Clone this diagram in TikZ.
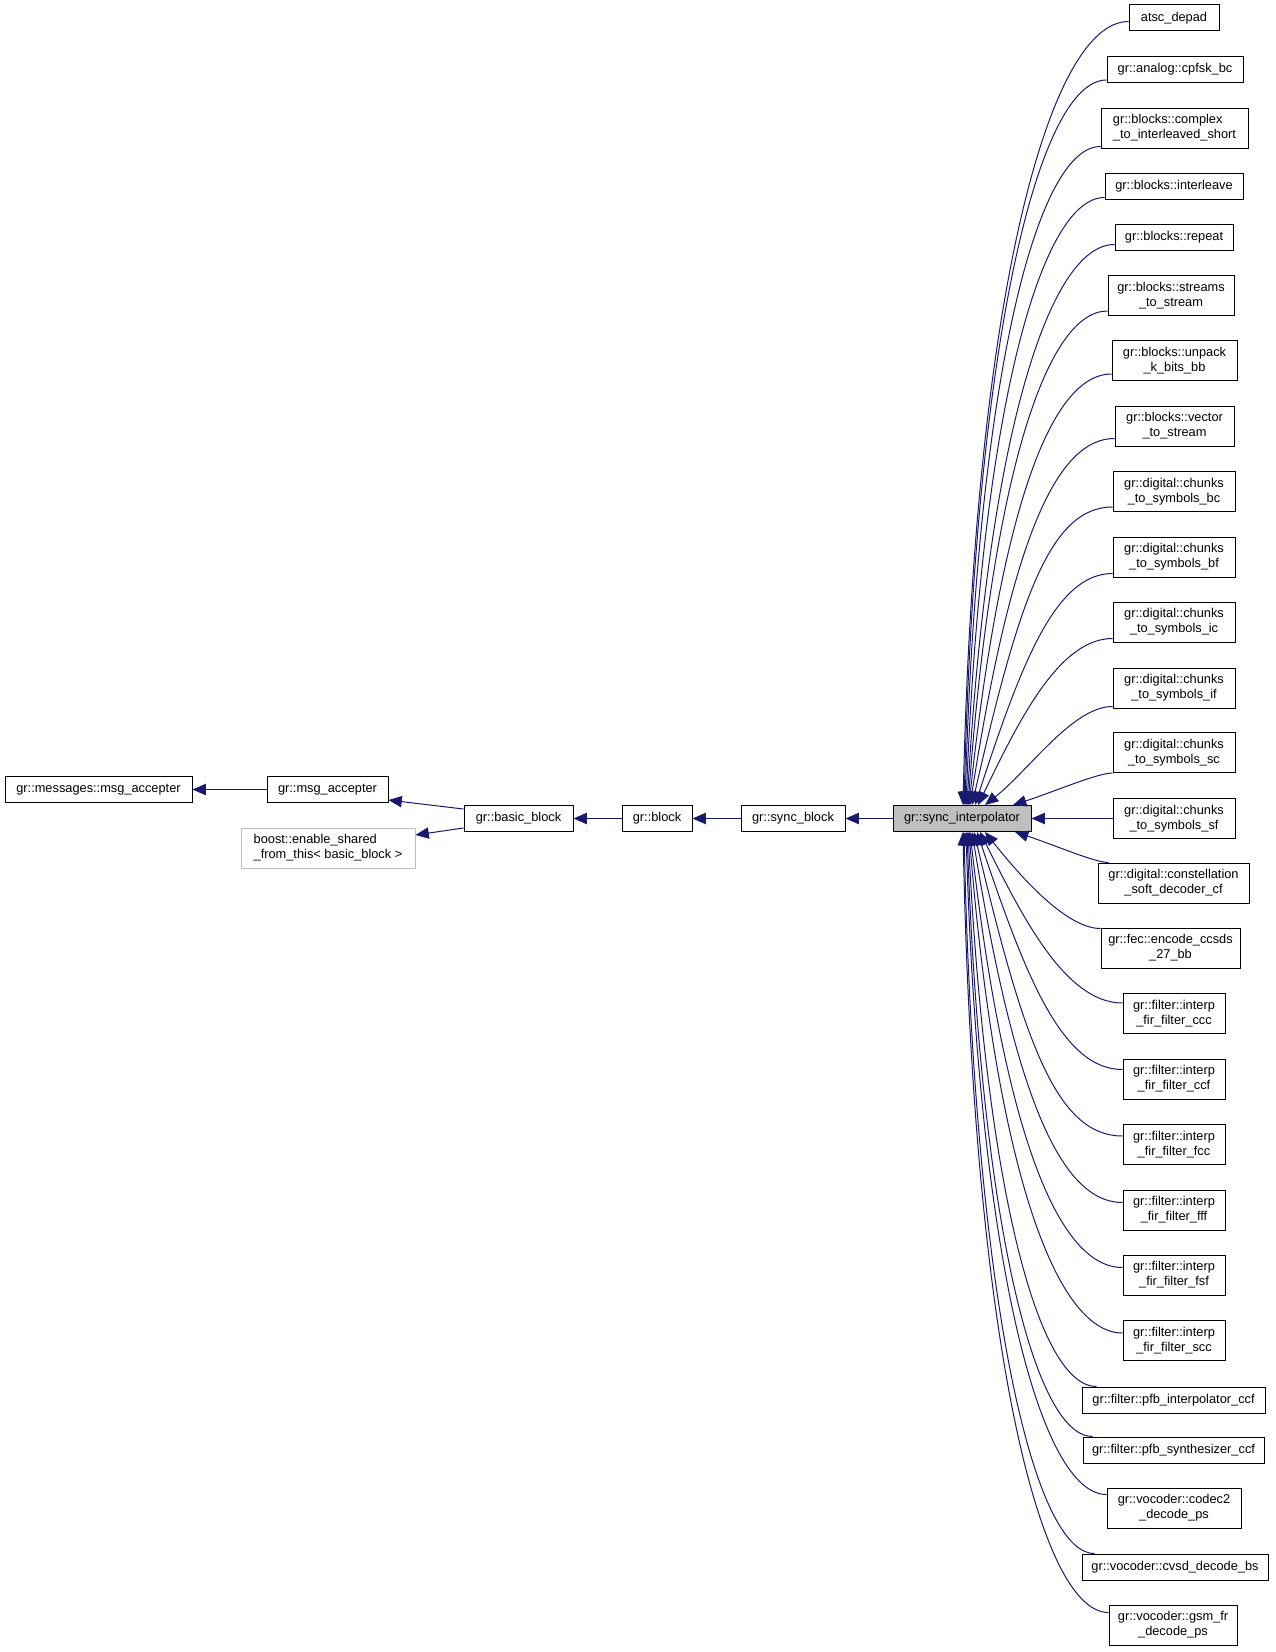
\documentclass[tikz,border=0pt]{standalone}
\usepackage{fontspec}
\setmainfont{Liberation Sans}
\usetikzlibrary{arrows.meta,calc}
\definecolor{edgec}{HTML}{191970}
\definecolor{greyc}{HTML}{BFBFBF}
\newcommand\curvedge[5]{\draw[edge] let \p1=(#2), \p2=(#1) in (\p2) .. controls ({\x2+#4*(\x1-\x2)},{\y1+#5*(\y2-\y1)}) and ({\x1-#3*(\x1-\x2)},\y1) .. (\p1);}
\begin{document}
\begin{tikzpicture}[x=0.75pt,y=-0.75pt,
 font=\fontsize{9.6}{11.3}\selectfont,
 box/.style={draw=black, line width=0.75pt, rectangle, inner sep=0pt, align=center, text=black},
 sz/.style 2 args={minimum width=#1*0.75pt, minimum height=#2*0.75pt},
 edge/.style={draw=edgec, line width=0.75pt, {Triangle[length=10pt,width=8.5pt]}-}]
\useasboundingbox (0,0) rectangle (1275,1652);
% left chain
\node[box,sz={187}{26}] (msgs) at (98.5,789.5) {gr::messages::msg\_accepter};
\node[box,sz={121}{26}] (msgacc) at (327.5,789.5) {gr::msg\_accepter};
\node[box,draw=greyc,sz={174}{40},align=left] (boost) at (328,848) {boost::enable\_shared\\\_from\_this{<} basic\_block {>}};
\node[box,sz={109}{26}] (basic) at (518.5,818.5) {gr::basic\_block};
\node[box,sz={70}{26}] (block) at (657,818.5) {gr::block};
\node[box,sz={104}{26}] (syncb) at (793,818.5) {gr::sync\_block};
\node[box,fill=greyc,sz={138}{26}] (si) at (962,818.5) {gr::sync\_interpolator};
% right column
\node[box,sz={90}{26}] (atsc) at (1174,18) {atsc\_depad};
\node[box,sz={136}{26}] (cpfsk) at (1175,69.5) {gr::analog::cpfsk\_bc};
\node[box,sz={147}{40},align=left] (complex) at (1174.5,128) {gr::blocks::complex\\\_to\_interleaved\_short};
\node[box,sz={138}{26}] (interleave) at (1174,186) {gr::blocks::interleave};
\node[box,sz={118}{26}] (repeat) at (1174,237) {gr::blocks::repeat};
\node[box,sz={126}{40}] (streams) at (1171,295.5) {gr::blocks::streams\\\_to\_stream};
\node[box,sz={125}{40}] (unpack) at (1174.5,360.5) {gr::blocks::unpack\\\_k\_bits\_bb};
\node[box,sz={119}{40}] (vector) at (1174.5,426) {gr::blocks::vector\\\_to\_stream};
\node[box,sz={122}{40}] (cbc) at (1174,491.5) {gr::digital::chunks\\\_to\_symbols\_bc};
\node[box,sz={122}{40}] (cbf) at (1174,557) {gr::digital::chunks\\\_to\_symbols\_bf};
\node[box,sz={122}{40}] (cic) at (1174,622) {gr::digital::chunks\\\_to\_symbols\_ic};
\node[box,sz={122}{40}] (cif) at (1174,688) {gr::digital::chunks\\\_to\_symbols\_if};
\node[box,sz={122}{40}] (csc) at (1174,752.5) {gr::digital::chunks\\\_to\_symbols\_sc};
\node[box,sz={122}{40}] (csf) at (1174,818.5) {gr::digital::chunks\\\_to\_symbols\_sf};
\node[box,sz={151}{40}] (const) at (1173.5,883) {gr::digital::constellation\\\_soft\_decoder\_cf};
\node[box,sz={139}{40}] (ccsds) at (1170.5,948) {gr::fec::encode\_ccsds\\\_27\_bb};
\node[box,sz={102}{40}] (iccc) at (1174,1013.5) {gr::filter::interp\\\_fir\_filter\_ccc};
\node[box,sz={102}{40}] (iccf) at (1174,1079) {gr::filter::interp\\\_fir\_filter\_ccf};
\node[box,sz={102}{40}] (ifcc) at (1174,1144.5) {gr::filter::interp\\\_fir\_filter\_fcc};
\node[box,sz={102}{40}] (ifff) at (1174,1210) {gr::filter::interp\\\_fir\_filter\_fff};
\node[box,sz={102}{40}] (ifsf) at (1174,1275) {gr::filter::interp\\\_fir\_filter\_fsf};
\node[box,sz={102}{40}] (iscc) at (1174,1340.5) {gr::filter::interp\\\_fir\_filter\_scc};
\node[box,sz={183}{26}] (pfbi) at (1173.5,1400) {gr::filter::pfb\_interpolator\_ccf};
\node[box,sz={181}{26}] (pfbs) at (1173.5,1450) {gr::filter::pfb\_synthesizer\_ccf};
\node[box,sz={134}{40}] (codec) at (1174,1508) {gr::vocoder::codec2\\\_decode\_ps};
\node[box,sz={186}{26}] (cvsd) at (1175,1567) {gr::vocoder::cvsd\_decode\_bs};
\node[box,sz={128}{40}] (gsm) at (1173,1625) {gr::vocoder::gsm\_fr\\\_decode\_ps};
% chain edges
\draw[edge] (msgs.east) -- (msgacc.west);
\draw[edge] ([yshift=-7.9pt]msgacc.east) -- ([yshift=7.1pt]basic.west);
\draw[edge] ([yshift=9.75pt]boost.east) -- ([yshift=-7.1pt]basic.west);
\draw[edge] (basic.east) -- (block.west);
\draw[edge] (block.east) -- (syncb.west);
\draw[edge] (syncb.east) -- (si.west);
\draw[edge] (si.east) -- (csf.west);
% upper fan
\curvedge{[xshift=0.75pt]si.north}{[yshift=7.5pt]atsc.south west}{.48}{.07}{.35}
\curvedge{[xshift=1.5pt]si.north}{[yshift=2.25pt]cpfsk.south west}{.47}{.08}{.35}
\curvedge{[xshift=2.25pt]si.north}{[yshift=1.5pt]complex.south west}{.47}{.09}{.35}
\curvedge{[xshift=3pt]si.north}{[yshift=1.5pt]interleave.south west}{.46}{.11}{.35}
\curvedge{[xshift=3.75pt]si.north}{[yshift=4.5pt]repeat.south west}{.45}{.14}{.35}
\curvedge{[xshift=4.5pt]si.north}{[yshift=3.75pt]streams.south west}{.45}{.17}{.35}
\curvedge{[xshift=5.25pt]si.north}{[yshift=5.25pt]unpack.south west}{.45}{.21}{.35}
\curvedge{[xshift=6pt]si.north}{[yshift=6pt]vector.south west}{.45}{.26}{.35}
\curvedge{[xshift=7.5pt]si.north}{[yshift=3.75pt]cbc.south west}{.45}{.33}{.32}
\curvedge{[xshift=9.75pt]si.north}{[yshift=3pt]cbf.south west}{.42}{.33}{.4}
\curvedge{[xshift=12pt]si.north}{[yshift=3pt]cic.south west}{.4}{.3}{.5}
\curvedge{[xshift=17.25pt]si.north}{[yshift=1.5pt]cif.south west}{.31}{.35}{.64}
\curvedge{[xshift=38.25pt]si.north}{csc.south west}{.15}{.4}{.6}
% lower fan
\curvedge{[xshift=39.75pt]si.south}{[xshift=8.25pt]const.north west}{.15}{.4}{.6}
\curvedge{[xshift=17.25pt]si.south}{[yshift=-0.75pt]ccsds.north west}{.3}{.3}{.55}
\curvedge{[xshift=13.5pt]si.south}{[yshift=-7.5pt]iccc.north west}{.4}{.3}{.5}
\curvedge{[xshift=11.25pt]si.south}{[yshift=-8.25pt]iccf.north west}{.42}{.33}{.4}
\curvedge{[xshift=9pt]si.south}{[yshift=-9pt]ifcc.north west}{.45}{.33}{.32}
\curvedge{[xshift=7.5pt]si.south}{[yshift=-9.75pt]ifff.north west}{.45}{.26}{.35}
\curvedge{[xshift=6pt]si.south}{[yshift=-9.75pt]ifsf.north west}{.45}{.21}{.35}
\curvedge{[xshift=5.25pt]si.south}{[yshift=-9.75pt]iscc.north west}{.45}{.17}{.35}
\curvedge{[xshift=4.5pt]si.south}{[xshift=11.25pt]pfbi.north west}{.45}{.14}{.35}
\curvedge{[xshift=3.75pt]si.south}{[xshift=7.5pt]pfbs.north west}{.46}{.11}{.35}
\curvedge{[xshift=3pt]si.south}{[yshift=-5.25pt]codec.north west}{.47}{.09}{.35}
\curvedge{[xshift=1.5pt]si.south}{[xshift=9.75pt]cvsd.north west}{.47}{.08}{.35}
\curvedge{[xshift=0.75pt]si.south}{[yshift=-6pt]gsm.north west}{.48}{.07}{.35}
\end{tikzpicture}
\end{document}
